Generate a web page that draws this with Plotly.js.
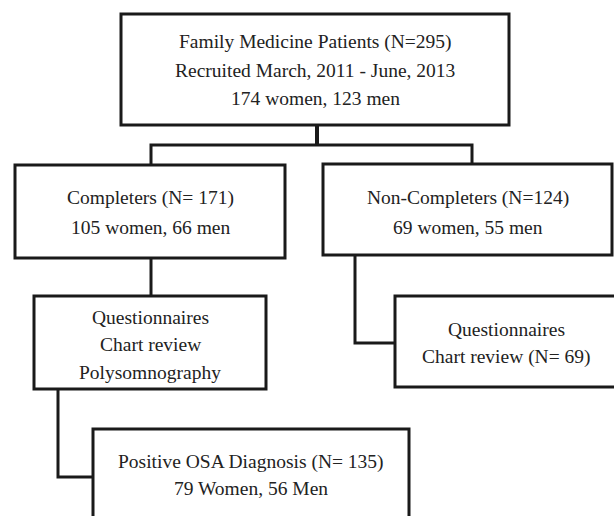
<!DOCTYPE html>
<html>
<head>
<meta charset="utf-8">
<script src="https://cdn.plot.ly/plotly-3.0.1.min.js"></script>
<style>
  html, body { margin: 0; padding: 0; background: #ffffff; }
  #chart { width: 614px; height: 516px; }
</style>
</head>
<body>
<div id="chart"></div>
<script>
// ---- Data (flowchart content) ----
const totalN   = [295, 171, 124, 69, 135];
const women    = [174, 105, 69, 79];
const men      = [123, 66, 55, 56];
const recruitPeriod = ["March, 2011", "June, 2013"];
const assessmentsCompleters = ["Questionnaires", "Chart review", "Polysomnography"];
const assessmentsNonCompleters = ["Questionnaires", "Chart review"];

// Text lines of each box, built from the data
const boxLines = [
  ["Family Medicine Patients (N=" + totalN[0] + ")",
   "Recruited " + recruitPeriod[0] + " - " + recruitPeriod[1],
   women[0] + " women, " + men[0] + " men"],
  ["Completers (N= " + totalN[1] + ")",
   women[1] + " women, " + men[1] + " men"],
  ["Non-Completers (N=" + totalN[2] + ")",
   women[2] + " women, " + men[2] + " men"],
  assessmentsCompleters.slice(),
  [assessmentsNonCompleters[0],
   assessmentsNonCompleters[1] + " (N= " + totalN[3] + ")"],
  ["Positive OSA Diagnosis (N= " + totalN[4] + ")",
   women[3] + " Women, " + men[3] + " Men"]
];

// ---- Geometry (layout only) ----
const boxGeom = [
  {x0: 121, x1: 509, y0: 14,  y1: 125, cx: 315, ys: [42, 70, 98]},
  {x0: 15,  x1: 285, y0: 165, y1: 258, cx: 150, ys: [198, 227]},
  {x0: 323, x1: 612, y0: 164, y1: 255, cx: 468, ys: [198, 227]},
  {x0: 34,  x1: 266, y0: 296, y1: 389, cx: 150, ys: [317, 344, 372]},
  {x0: 395, x1: 617, y0: 296, y1: 387, cx: 506, ys: [329, 357]},
  {x0: 93,  x1: 409, y0: 429, y1: 522, cx: 251, ys: [462, 488]}
];
const connectors = [
  "M 317 125 L 317 145",
  "M 151 165 L 151 145 L 472 145 L 472 164",
  "M 151 258 L 151 296",
  "M 355 255 L 355 343 L 395 343",
  "M 58 389 L 58 477 L 93 477"
];

const lineColor = "#1a1a1a";
const textColor = "#222222";
const fontFamily = "Liberation Serif";

const shapes = [];
const annotations = [];

boxGeom.forEach((g, i) => {
  shapes.push({
    type: "rect", xref: "x", yref: "y",
    x0: g.x0, x1: g.x1, y0: g.y0, y1: g.y1,
    line: {color: lineColor, width: 3},
    fillcolor: "rgba(0,0,0,0)", layer: "above"
  });
  boxLines[i].forEach((t, j) => {
    annotations.push({
      x: g.cx, y: g.ys[j], xref: "x", yref: "y",
      text: t, showarrow: false,
      xanchor: "center", yanchor: "middle",
      font: {family: fontFamily, size: 19.5, color: textColor}
    });
  });
});

connectors.forEach((p, k) => {
  shapes.push({
    type: "path", xref: "x", yref: "y", path: p,
    line: {color: lineColor, width: k === 0 ? 4 : 3},
    layer: "above"
  });
});

const layout = {
  width: 614, height: 516,
  margin: {l: 0, r: 0, t: 0, b: 0, pad: 0},
  paper_bgcolor: "#ffffff", plot_bgcolor: "#ffffff",
  showlegend: false,
  font: {family: fontFamily},
  xaxis: {range: [0, 614], visible: false, fixedrange: true},
  yaxis: {range: [516, 0], visible: false, fixedrange: true},
  shapes: shapes,
  annotations: annotations
};

Plotly.newPlot("chart", [{x: [], y: [], type: "scatter", mode: "markers", hoverinfo: "skip"}], layout, {staticPlot: true, displayModeBar: false});
</script>
</body>
</html>
